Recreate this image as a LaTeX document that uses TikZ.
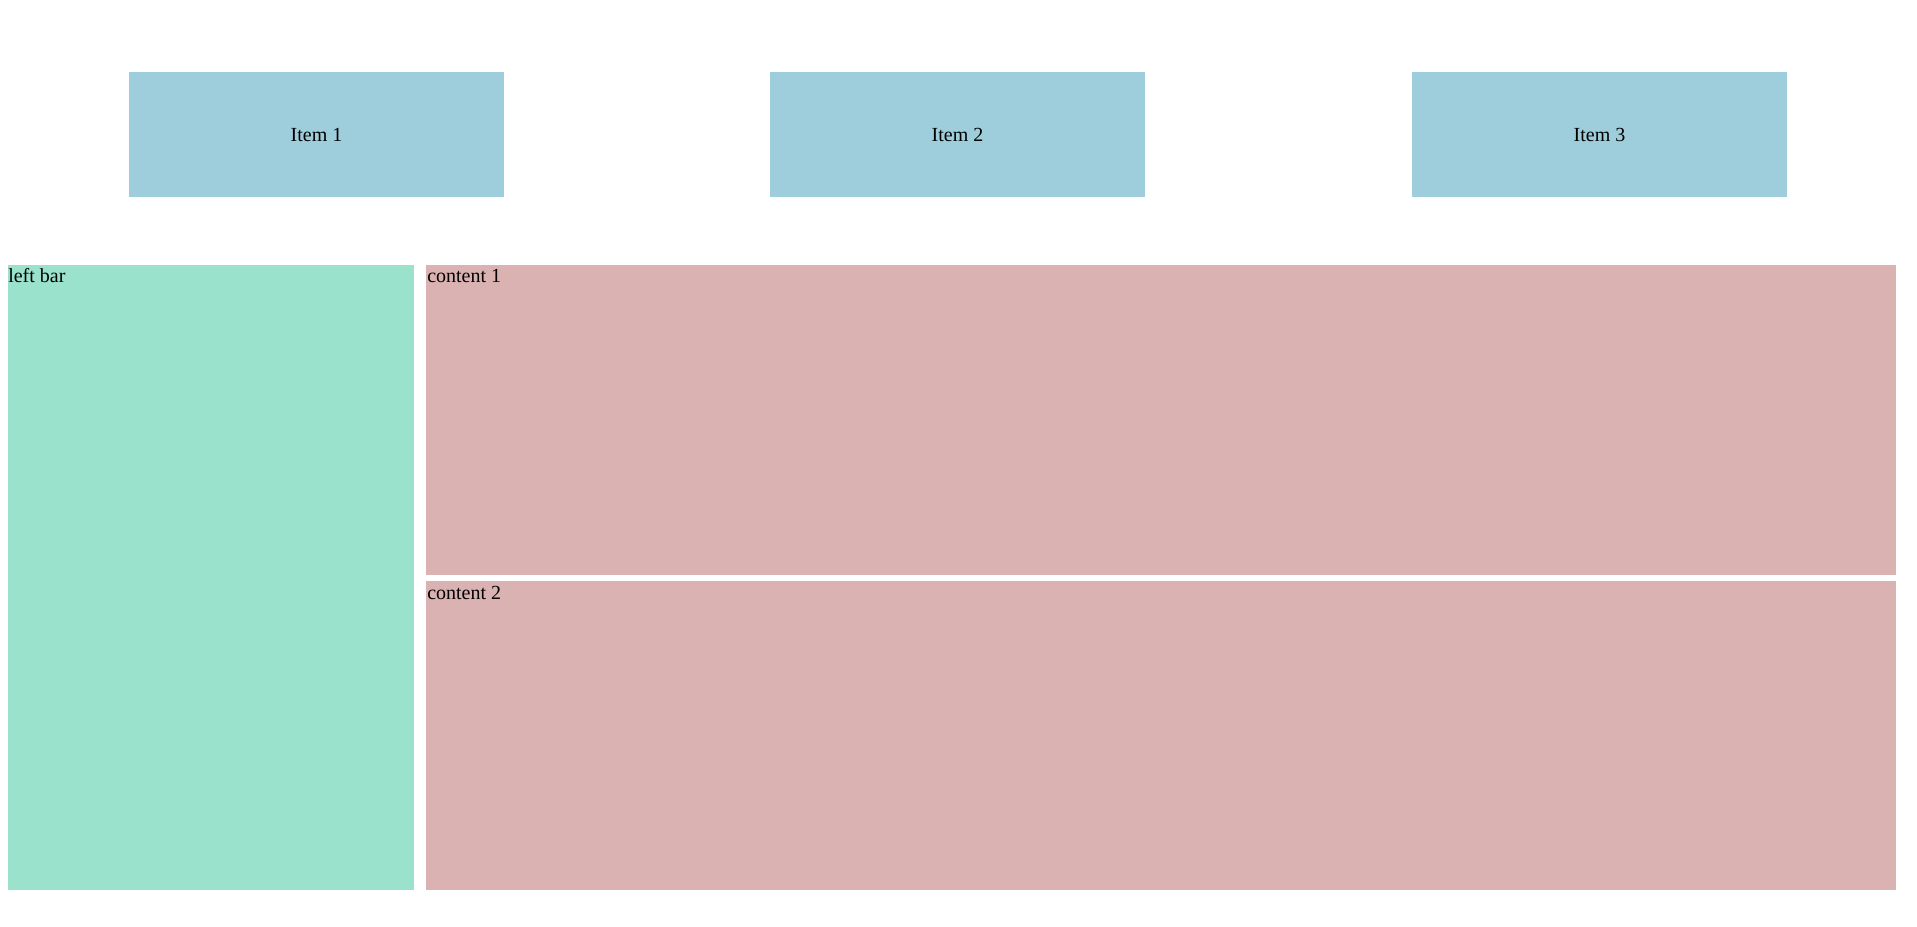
\documentclass[tikz,border=0pt]{standalone}
\usepackage{fontspec}
\setmainfont{Liberation Serif}
\definecolor{itemblue}{RGB}{158,206,219}
\definecolor{barteal}{RGB}{154,226,204}
\definecolor{contentpink}{RGB}{218,178,178}
\tikzset{
  pxbox/.style 2 args={rectangle, inner sep=0pt, outer sep=0pt, draw=none,
    minimum width=#1*0.75pt, minimum height=#2*0.75pt},
  itembox/.style={pxbox={375}{125}, fill=itemblue, font=\fontsize{15pt}{17pt}\selectfont},
  barbox/.style={pxbox={406}{625}, fill=barteal},
  contentbox/.style={fill=contentpink},
  cornertext/.style={anchor=base west, inner sep=0pt, font=\fontsize{15pt}{17pt}\selectfont}
}
\begin{document}
\begin{tikzpicture}[x=0.75pt, y=-0.75pt]
  \useasboundingbox (0,0) rectangle (1917,927);
  % top items
  \node[itembox] (item1) at (316.5,134.5) {Item 1};
  \node[itembox] (item2) at (957.5,134.5) {Item 2};
  \node[itembox] (item3) at (1599.5,134.5) {Item 3};
  % left bar
  \node[barbox] (leftbar) at (211,577.5) {};
  \node[cornertext] (leftbartext) at (8,283) {left bar};
  % contents
  \node[contentbox, pxbox={1470}{310}] (content1) at (1161,420) {};
  \node[cornertext] (content1text) at (427,283) {content 1};
  \node[contentbox, pxbox={1470}{309}] (content2) at (1161,735.5) {};
  \node[cornertext] (content2text) at (427,599) {content 2};
\end{tikzpicture}
\end{document}
